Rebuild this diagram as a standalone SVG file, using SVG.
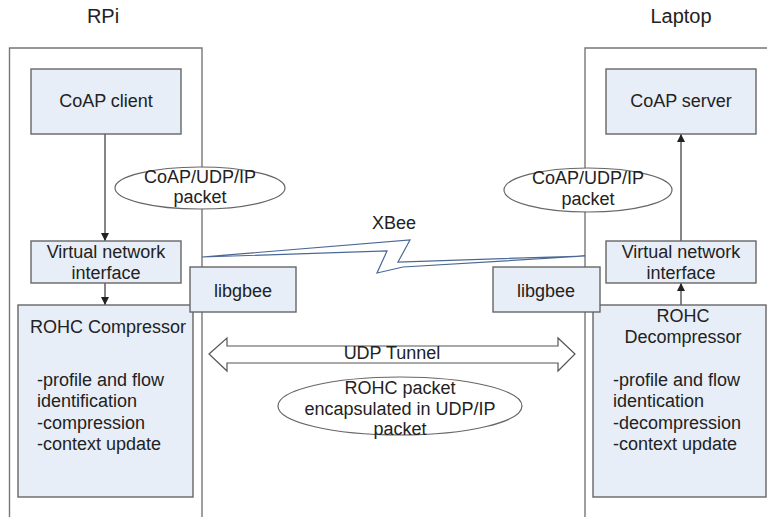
<svg xmlns="http://www.w3.org/2000/svg" width="767" height="517" viewBox="0 0 767 517">
<defs>
<style>
text{font-family:"Liberation Sans",Arial,sans-serif;font-size:18px;fill:#222}
.c{text-anchor:middle}
.t{font-size:20px}
.box{fill:#e7eef7;stroke:#666;stroke-width:1.4}
.cont{fill:none;stroke:#777;stroke-width:1.4}
.ell{fill:#fff;stroke:#666;stroke-width:1.2}
.ln{fill:none;stroke:#444;stroke-width:1.3}
</style>
<marker id="ah" viewBox="0 0 10 10" refX="10" refY="5" markerWidth="8" markerHeight="8" markerUnits="userSpaceOnUse" orient="auto">
<path d="M0,0 L10,5 L0,10 z" fill="#222"/>
</marker>
</defs>
<rect width="767" height="517" fill="#fff"/>
<text class="c t" x="103" y="23">RPi</text>
<text class="c t" x="681" y="23">Laptop</text>
<g id="rpi"><path class="cont" d="M9.5,520 V48 H202 V520"/></g>
<g id="laptop"><path class="cont" d="M585,520 V48 H770"/></g>
<g id="connectors">
<path class="ln" d="M105,134 V241" marker-end="url(#ah)"/>
<path class="ln" d="M105,283 V305" marker-end="url(#ah)"/>
<path class="ln" d="M681,305 V283" marker-end="url(#ah)"/>
<path class="ln" d="M681,241 V134" marker-end="url(#ah)"/>
<polygon points="202,257 410,240 398,262 585,256 403,267 377,273 387,251" fill="none" stroke="#4a6796" stroke-width="1.2" stroke-linejoin="miter"/>
<polygon points="209,354 227,338 227,346 558,346 558,338 575,354 558,371 558,363 227,363 227,371" fill="#fff" stroke="#555" stroke-width="1.2"/>
</g>
<text class="c" x="394" y="229">XBee</text>
<text class="c" x="392" y="359">UDP Tunnel</text>
<g id="coap-client"><rect class="box" x="31" y="69" width="150" height="65"/><text class="c" x="106" y="107">CoAP client</text></g>
<g id="coap-server"><rect class="box" x="606" y="69" width="150" height="65"/><text class="c" x="681" y="107">CoAP server</text></g>
<g id="vni-left"><rect class="box" x="31" y="241" width="150" height="42"/><text class="c" x="106" y="258">Virtual network</text><text class="c" x="106" y="279">interface</text></g>
<g id="vni-right"><rect class="box" x="606" y="241" width="150" height="42"/><text class="c" x="681" y="258">Virtual network</text><text class="c" x="681" y="279">interface</text></g>
<g id="rohc-compressor"><rect class="box" x="18" y="305" width="175" height="192"/>
<text x="30" y="333">ROHC Compressor</text>
<text x="37" y="386">-profile and flow</text>
<text x="37" y="407">identification</text>
<text x="37" y="429">-compression</text>
<text x="37" y="450">-context update</text></g>
<g id="rohc-decompressor"><rect class="box" x="593" y="305" width="173" height="192"/>
<text class="c" x="683" y="322">ROHC</text>
<text class="c" x="683" y="343">Decompressor</text>
<text x="613" y="386">-profile and flow</text>
<text x="613" y="407">identication</text>
<text x="613" y="429">-decompression</text>
<text x="613" y="450">-context update</text></g>
<g id="libgbee-left"><rect class="box" x="190" y="267" width="106" height="45"/><text class="c" x="243" y="297">libgbee</text></g>
<g id="libgbee-right"><rect class="box" x="493" y="267" width="107" height="45"/><text class="c" x="546" y="297">libgbee</text></g>
<g id="pkt-left"><ellipse class="ell" cx="200" cy="188" rx="85" ry="21"/><text class="c" x="200" y="183">CoAP/UDP/IP</text><text class="c" x="200" y="203">packet</text></g>
<g id="pkt-right"><ellipse class="ell" cx="588" cy="190" rx="84" ry="22"/><text class="c" x="588" y="184">CoAP/UDP/IP</text><text class="c" x="588" y="205">packet</text></g>
<g id="pkt-rohc"><ellipse class="ell" cx="400" cy="406" rx="122" ry="29"/><text class="c" x="400" y="394">ROHC packet</text><text class="c" x="400" y="415">encapsulated in UDP/IP</text><text class="c" x="400" y="435">packet</text></g>
</svg>
